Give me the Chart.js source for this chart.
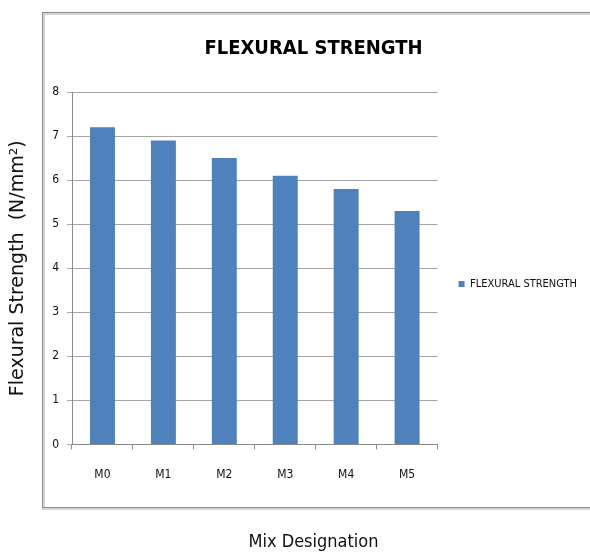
<!DOCTYPE html>
<html>
<head>
<meta charset="utf-8">
<script src="https://cdn.jsdelivr.net/npm/chart.js@4"></script>
<style>
    body { margin: 0; background: #fff; }
    #wrap { width: 590px; height: 556px; }
</style>
</head>
<body>
<div id="wrap"><canvas id="flexChart"></canvas></div>
<script>
// values
const mixes = ['M0', 'M1', 'M2', 'M3', 'M4', 'M5'];
const flexStrength = [7.2, 6.9, 6.5, 6.1, 5.8, 5.3];
const yTicks = [0, 1, 2, 3, 4, 5, 6, 7, 8];

const narrow = "'Liberation Sans Narrow', 'DejaVu Sans Condensed', 'Liberation Sans', sans-serif";

// grey frame round the chart, like the spreadsheet chart area
const frame = {
    id: 'frame',
    beforeDraw(chart) {
        let ctx = chart.ctx;
        ctx.save();
        ctx.strokeStyle = '#d4d4d4';
        ctx.lineWidth = 3;
        ctx.strokeRect(43.5, 13.5, 548, 495);
        ctx.strokeStyle = '#8c8c8c';
        ctx.lineWidth = 1;
        ctx.strokeRect(42.5, 12.5, 548, 495);
        ctx.restore();
    }
};

let ctx = document.getElementById('flexChart');
let myChart = new Chart(ctx, {
    type: 'bar',
    data: {
        labels: mixes,
        datasets: [{
            label: 'FLEXURAL STRENGTH',
            data: flexStrength,
            backgroundColor: '#4f81bd',
            borderWidth: 0,
            barPercentage: 0.82,
            categoryPercentage: 0.5
        }]
    },
    options: {
        responsive: true,
        maintainAspectRatio: false,
        animation: false,
        layout: { padding: { top: 12, left: 40, right: 3, bottom: 0 } },
        plugins: {
            title: {
                display: true,
                text: 'FLEXURAL STRENGTH',
                color: '#000',
                font: { family: narrow, size: 20, weight: 'bold' },
                padding: { top: 25, bottom: 31 }
            },
            subtitle: {
                display: true,
                position: 'bottom',
                text: 'Mix Designation',
                color: '#111',
                font: { family: narrow, size: 18 },
                padding: { top: 0, bottom: 3 }
            },
            legend: {
                position: 'right',
                maxWidth: 170,
                labels: {
                    boxWidth: 6,
                    boxHeight: 6,
                    padding: 21,
                    color: '#111',
                    font: { family: narrow, size: 11 }
                }
            },
            tooltip: { enabled: false }
        },
        scales: {
            x: {
                grid: {
                    display: true,
                    drawOnChartArea: false,
                    drawTicks: true,
                    tickLength: 5,
                    color: '#8c8c8c'
                },
                border: { color: '#8c8c8c' },
                ticks: {
                    color: '#111',
                    padding: 18,
                    font: { family: narrow, size: 12 }
                },
                afterFit: (scale) => { scale.height = 87; }
            },
            y: {
                min: 0,
                max: 8,
                afterBuildTicks: (scale) => {
                    scale.ticks = yTicks.map(v => ({ value: v }));
                },
                grid: {
                    color: '#a6a6a6',
                    tickLength: 5
                },
                border: { color: '#8c8c8c' },
                ticks: {
                    color: '#111',
                    padding: 8,
                    font: { family: narrow, size: 12 }
                },
                title: {
                    display: true,
                    text: 'Flexural Strength  (N/mm²)',
                    color: '#111',
                    font: { family: "'DejaVu Sans', 'Liberation Sans', sans-serif", size: 19 },
                    padding: { top: -33, bottom: 0 }
                },
                afterFit: (scale) => { scale.width = 32; }
            }
        }
    },
    plugins: [frame]
});
</script>
</body>
</html>
